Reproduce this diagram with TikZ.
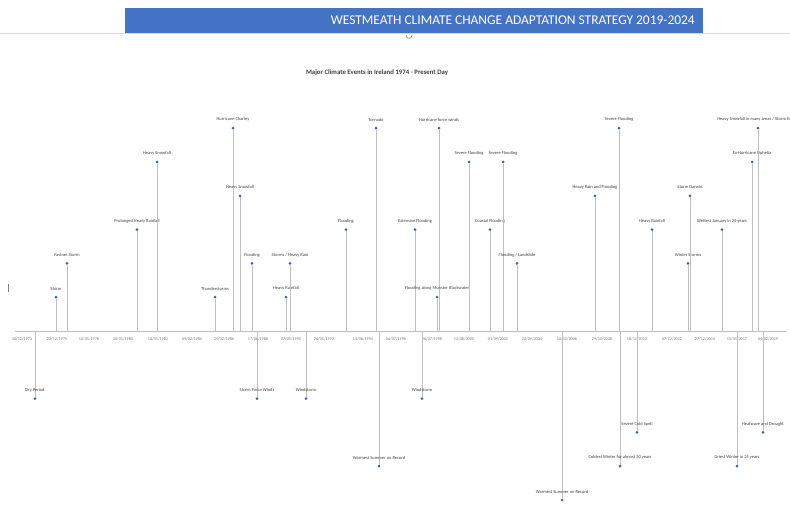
\documentclass[tikz,border=0pt]{standalone}
\usepackage{fontspec}
\setmainfont{Carlito}
\definecolor{hdrblue}{HTML}{4472C4}
\definecolor{dotblue}{HTML}{3A64A8}
\definecolor{stemgray}{HTML}{C0C0C0}
\definecolor{axisgray}{HTML}{BDBDBD}
\definecolor{labgray}{HTML}{404040}
\definecolor{dategray}{HTML}{7A7A7A}
\definecolor{linegray}{HTML}{D9D9D9}
\begin{document}
\begin{tikzpicture}[x=1bp,y=-1bp,
  stem/.style={draw=stemgray, line width=0.9bp},
  dot/.style={circle, fill=dotblue, inner sep=0, minimum size=3bp},
  evlabel/.style={font=\fontsize{4.5}{5}\selectfont, text=labgray, inner sep=0},
  datelabel/.style={font=\fontsize{4.2}{5}\selectfont, text=dategray, inner sep=0},
  hdrbar/.style={fill=hdrblue, minimum width=578bp, minimum height=25bp, anchor=north west, inner sep=0},
  hdrtext/.style={anchor=east, text=white, inner sep=0, font=\fontsize{13.5}{15}\selectfont},
  titletext/.style={text=labgray, inner sep=0, font=\bfseries\fontsize{6.8}{8}\selectfont}]
\clip (0,0) rectangle (790,521);
\fill[white] (0,0) rectangle (790,521);
% header
\coordinate (hl0) at (0,33.5);
\coordinate (hl1) at (790,33.5);
\draw[linegray, line width=0.6bp] (hl0) -- (hl1);
\node[hdrbar] (hdr) at (125,8) {};
\node[hdrtext] (htxt) at (695,20.5) {WESTMEATH CLIMATE CHANGE ADAPTATION STRATEGY 2019-2024};
\coordinate (cur0) at (406,35);
\coordinate (cur1) at (412,35);
\draw[gray, line width=0.6bp] (cur0) .. controls (406,39.5) and (412,39.5) .. (cur1);
% title
\node[titletext] (title) at (377,73) {Major Climate Events in Ireland 1974 - Present Day};
% left mark
\coordinate (lm0) at (8,284);
\coordinate (lm1) at (8,292);
\draw[gray, line width=0.5bp] (lm0) -- (lm1);
% axis
\coordinate (ax0) at (15,331);
\coordinate (ax1) at (786,331);
\draw[axisgray, line width=0.8bp] (ax0) -- (ax1);
% date labels
\foreach \x/\d [count=\i] in {22/{30/12/1973},57/{22/12/1975},89/{10/05/1978},123/{30/01/1980},158/{18/05/1982},192/{09/02/1984},224/{25/02/1986},258/{17/06/1988},291/{07/05/1990},324/{26/05/1992},363/{15/06/1994},396/{06/07/1996},432/{26/07/1998},464/{12/08/2000},498/{01/09/2002},532/{20/09/2004},567/{10/10/2006},602/{29/10/2008},637/{18/11/2010},672/{07/12/2012},705/{27/12/2014},737/{15/01/2017},768/{04/02/2019}}
  {\node[datelabel] (d\i) at (\x,339) {\d};}
% events
\foreach \x/\l/\t [count=\i] in {
  56/1/Storm,
  67/2/Fastnet Storm,
  137/3/Prolonged Heavy Rainfall,
  157/5/Heavy Snowfall,
  215/1/Thunderstorms,
  233/6/Hurricane Charley,
  240/4/Heavy Snowfall,
  252/2/Flooding,
  286/1/Heavy Rainfall,
  290/2/{Storms / Heavy Rain},
  346/3/Flooding,
  376/6/Tornado,
  415/3/Extensive Flooding,
  439/6/Hurricane force winds,
  437/1/Flooding along Munster Blackwater,
  469/5/Severe Flooding,
  490/3/Coastal Flooding,
  503/5/Severe Flooding,
  517/2/{Flooding / Landslide},
  595/4/Heavy Rain and Flooding,
  619/6/Severe Flooding,
  652/3/Heavy Rainfall,
  688/2/Winter Storms,
  690/4/Storm Darwin,
  722/3/Wettest January in 20 years,
  752/5/Ex-Hurricane Ophelia,
  758/6/{Heavy Snowfall in many areas / Storm Emma},
  35/-2/Dry Period,
  257/-2/Storm Force Winds,
  306/-2/Windstorm,
  379/-4/Warmest Summer on Record,
  422/-2/Windstorm,
  562/-5/Warmest Summer on Record,
  620/-4/Coldest Winter for almost 50 years,
  637/-3/Severe Cold Spell,
  737/-4/Driest Winter in 25 years,
  763/-3/Heatwave and Drought}
{
  \coordinate (b\i) at (\x,331);
  \node[dot] (m\i) at (\x,{331-\l*33.8}) {};
  \draw[stem] (b\i) -- (m\i);
  \node[evlabel] (t\i) at (\x,{331-\l*33.8-8.5}) {\t};
}
\end{tikzpicture}
\end{document}
